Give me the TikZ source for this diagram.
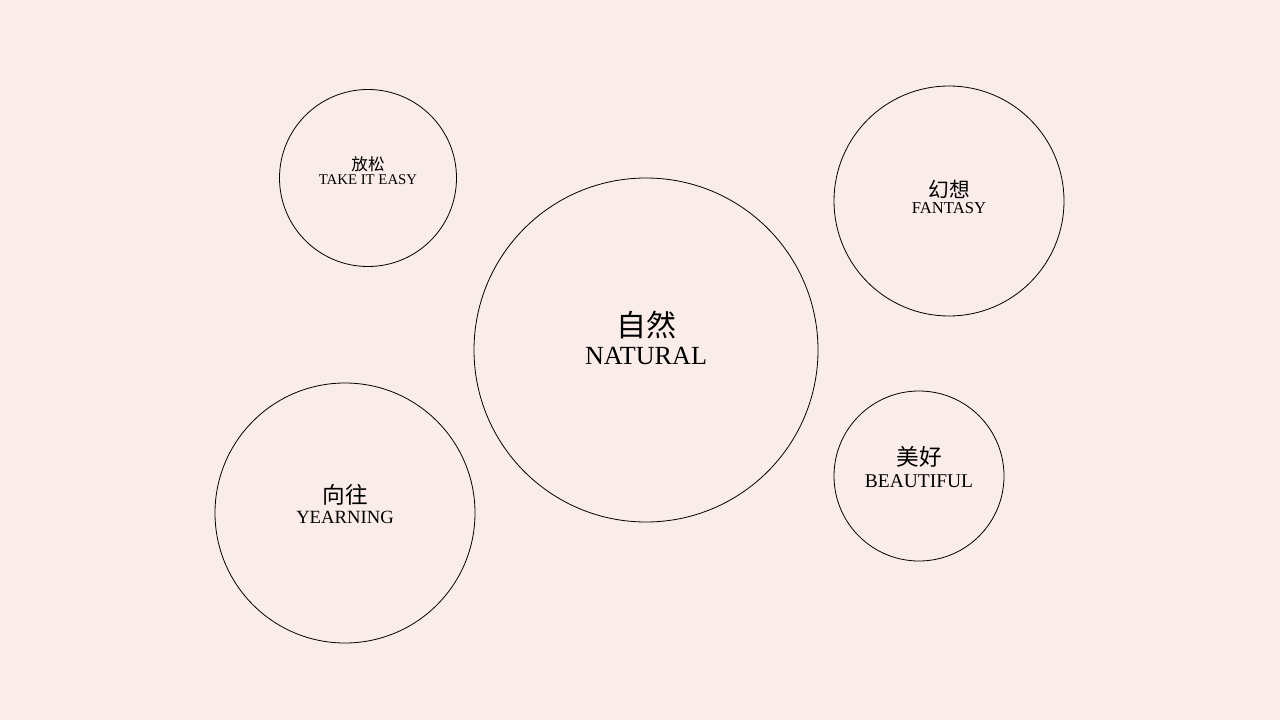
\documentclass[tikz,border=0pt]{standalone}
\usepackage{fontspec}
\setmainfont{Liberation Serif}
\newfontfamily\cjk{Noto Sans CJK SC}
\usetikzlibrary{positioning}
\definecolor{paper}{RGB}{249,236,233}

\begin{document}
\begin{tikzpicture}[x=0.75pt, y=-0.75pt, thin,
	bubble/.style = {circle, draw=black, line width=0.6pt, inner sep=0pt},
	zh/.style = {inner sep=0pt, font=\cjk},
	en/.style = {inner sep=0pt, anchor=base}]
			\fill[paper] (0,0) rectangle (1280,720);
			% circles
			\node[bubble, minimum size=258pt] (natural) at (646,350) {};
			\node[bubble, minimum size=132.75pt] (easy) at (368,178) {};
			\node[bubble, minimum size=172.5pt] (fantasy) at (949,201) {};
			\node[bubble, minimum size=195pt] (yearning) at (345,513) {};
			\node[bubble, minimum size=127.5pt] (beautiful) at (919,476) {};
			% labels
			\node[zh, font=\cjk\fontsize{22.5}{24}\selectfont] (natural-zh) at (646,325) {自然};
			\node[en, font=\fontsize{19.6}{21}\selectfont] (natural-en) at (646,364) {NATURAL};
			\node[zh, font=\cjk\fontsize{12.4}{14}\selectfont] (easy-zh) at (368,164) {放松};
			\node[en, font=\fontsize{11.1}{13}\selectfont] (easy-en) at (368,185) {TAKE IT EASY};
			\node[zh, font=\cjk\fontsize{15.5}{17}\selectfont] (fantasy-zh) at (949,189) {幻想};
			\node[en, font=\fontsize{12.5}{14}\selectfont] (fantasy-en) at (949,214) {FANTASY};
			\node[zh, font=\cjk\fontsize{17}{19}\selectfont] (yearning-zh) at (345,495) {向往};
			\node[en, font=\fontsize{14}{16}\selectfont] (yearning-en) at (345,523) {YEARNING};
			\node[zh, font=\cjk\fontsize{17}{19}\selectfont] (beautiful-zh) at (919,457) {美好};
			\node[en, font=\fontsize{14.6}{16}\selectfont] (beautiful-en) at (919,487) {BEAUTIFUL};
		\end{tikzpicture}
\end{document}
